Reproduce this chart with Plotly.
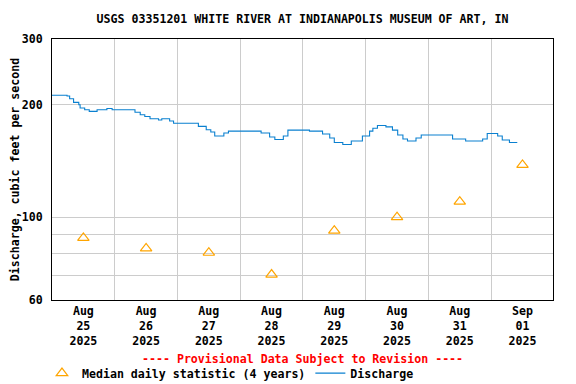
import plotly.graph_objects as go

# Discharge (step changes), cubic feet per second
discharge_times = [
    "2025-08-25 00:00", "2025-08-25 05:45", "2025-08-25 06:45", "2025-08-25 08:15",
    "2025-08-25 10:15", "2025-08-25 10:45", "2025-08-25 12:30", "2025-08-25 14:15",
    "2025-08-25 17:15", "2025-08-25 21:00", "2025-08-25 23:00", "2025-08-26 07:45",
    "2025-08-26 09:45", "2025-08-26 11:30", "2025-08-26 13:30", "2025-08-26 16:45",
    "2025-08-26 18:00", "2025-08-26 21:00", "2025-08-26 22:30", "2025-08-27 08:00",
    "2025-08-27 11:00", "2025-08-27 12:45", "2025-08-27 14:15", "2025-08-27 17:45",
    "2025-08-27 19:30", "2025-08-28 08:00", "2025-08-28 11:15", "2025-08-28 13:15",
    "2025-08-28 16:30", "2025-08-28 18:15", "2025-08-29 02:30", "2025-08-29 07:30",
    "2025-08-29 10:15", "2025-08-29 12:00", "2025-08-29 15:15", "2025-08-29 18:30",
    "2025-08-29 22:45", "2025-08-30 01:30", "2025-08-30 02:45", "2025-08-30 04:30",
    "2025-08-30 07:45", "2025-08-30 10:15", "2025-08-30 12:15", "2025-08-30 14:15",
    "2025-08-30 16:00", "2025-08-30 19:15", "2025-08-30 21:15", "2025-08-31 09:15",
    "2025-08-31 14:15", "2025-08-31 20:45", "2025-08-31 22:30", "2025-09-01 02:30",
    "2025-09-01 04:15", "2025-09-01 07:00", "2025-09-01 10:00",
]
discharge_values = [
    212, 211, 207.5, 203,
    200, 196, 194, 192,
    194, 195.5, 194, 191,
    188, 186, 183.5, 182,
    183.5, 181, 178.5, 175,
    171.5, 169, 165, 168,
    170, 168, 164, 161.5,
    165, 171, 170, 167,
    163, 158.5, 156.5, 160,
    165, 170, 173, 176,
    174.5, 171, 166, 162,
    160, 163, 166, 162,
    160, 162, 167.5, 165,
    161, 158.5, 158.5,
]

# Median daily statistic (4 years), plotted at noon of each day
median_times = [
    "2025-08-25 12:00", "2025-08-26 12:00", "2025-08-27 12:00", "2025-08-28 12:00",
    "2025-08-29 12:00", "2025-08-30 12:00", "2025-08-31 12:00", "2025-09-01 12:00",
]
median_values = [88, 82.5, 80.3, 70.2, 92, 100, 110, 138]

y_tickvals = [60, 70, 80, 90, 100, 200, 300]
y_ticktext = ["60", "", "", "", "100", "200", "300"]

FONT = "DejaVu Sans Mono"
FS = 11.6

fig = go.Figure()
fig.add_trace(go.Scatter(
    x=median_times, y=median_values, mode="markers",
    name="Median daily statistic (4 years)",
    marker=dict(symbol="triangle-up-open", size=10, color="#FFA500",
                line=dict(width=1.2, color="#FFA500")),
))
fig.add_trace(go.Scatter(
    x=discharge_times, y=discharge_values, mode="lines",
    name="Discharge", line=dict(color="#0A80D0", width=1.1, shape="hv"),
))

fig.update_layout(
    width=576, height=384,
    margin=dict(l=44, r=31, t=31, b=92, autoexpand=False),
    paper_bgcolor="white", plot_bgcolor="white",
    font=dict(family=FONT, size=FS, color="black", weight="bold"),
    title=dict(text="USGS 03351201 WHITE RIVER AT INDIANAPOLIS MUSEUM OF ART, IN",
               x=0.5, xref="paper", xanchor="center",
               y=1 - 11 / 384, yref="container", yanchor="middle",
               automargin=False,
               font=dict(family=FONT, size=FS, color="black", weight="bold")),
    showlegend=True,
    legend=dict(orientation="h", x=-0.02, xanchor="left", y=-0.28, yanchor="middle",
                font=dict(family=FONT, size=FS, color="black", weight="bold"),
                bgcolor="rgba(0,0,0,0)", itemwidth=30, tracegroupgap=0),
    annotations=[dict(
        text="---- Provisional Data Subject to Revision ----",
        x=0.5, xref="paper", y=-0.226, yref="paper",
        xanchor="center", yanchor="middle", showarrow=False,
        font=dict(family=FONT, size=FS, color="#FF0000", weight="bold"),
    )],
)

fig.update_xaxes(
    type="date", range=["2025-08-25 00:00", "2025-09-01 23:40"],
    dtick=86400000, tick0="2025-08-25", ticklabelmode="period",
    tickformat="%b<br>%d<br>%Y", ticks="", showgrid=True,
    gridcolor="#CCCCCC", gridwidth=1, automargin=False,
    showline=True, linecolor="black", linewidth=1, mirror=True,
    zeroline=False, ticklabelstandoff=0,
    tickfont=dict(family=FONT, size=FS, color="black", weight="bold"),
)
fig.update_yaxes(
    type="log", range=[1.77815125, 2.47712125],
    tickvals=y_tickvals, ticktext=y_ticktext, ticks="",
    showgrid=True, gridcolor="#CCCCCC", gridwidth=1, automargin=False,
    showline=True, linecolor="black", linewidth=1, mirror=True,
    zeroline=False, ticklabelstandoff=6,
    title=dict(text="Discharge, cubic feet per second", standoff=2,
               font=dict(family=FONT, size=FS, color="black", weight="bold")),
    tickfont=dict(family=FONT, size=FS, color="black", weight="bold"),
)

fig.write_html("out.html")
